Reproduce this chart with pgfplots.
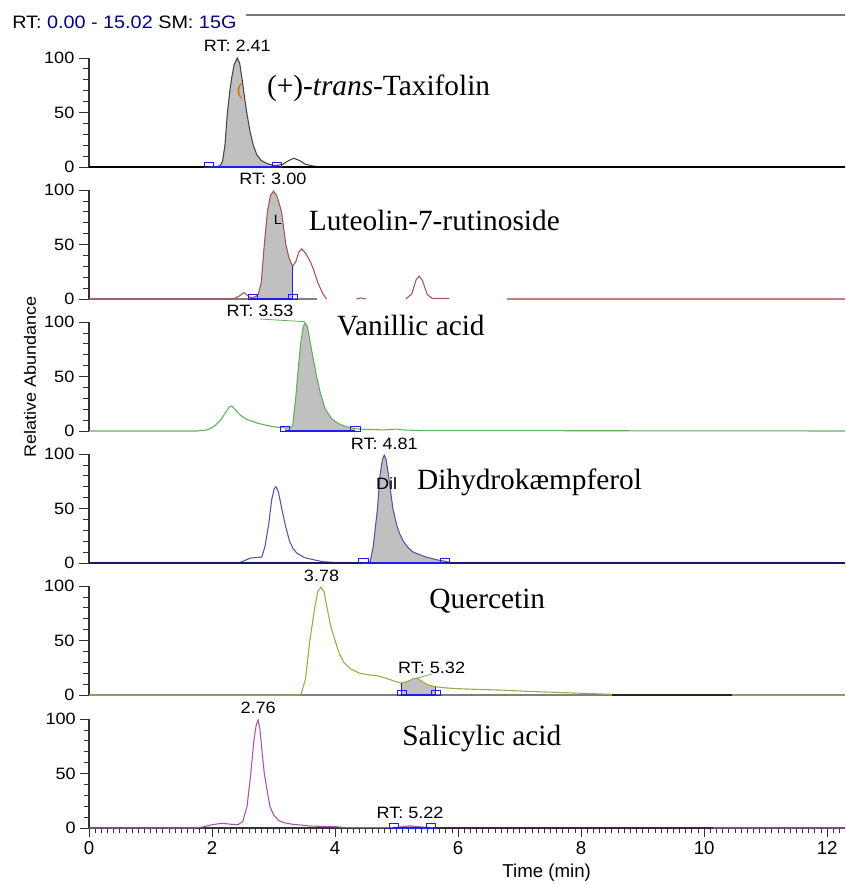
\documentclass[border=0pt]{standalone}
\usepackage{fontspec}
\setmainfont{Liberation Serif}
\newfontfamily\xc{Liberation Sans}[FakeStretch=1.1]
\newfontfamily\xb{Liberation Sans}
\usepackage{pgfplots}
\usepackage{pgfplotstable}
\pgfplotsset{compat=1.18}

\definecolor{tr1}{RGB}{70,70,70}
\definecolor{tr2}{RGB}{165,85,85}
\definecolor{bl2}{RGB}{200,125,125}
\definecolor{tr3}{RGB}{95,175,95}
\definecolor{tr4}{RGB}{85,85,165}
\definecolor{bl4}{RGB}{25,25,100}
\definecolor{tr5}{RGB}{165,165,70}
\definecolor{tr6}{RGB}{165,85,170}
\definecolor{fillg}{RGB}{192,192,192}
\definecolor{intb}{RGB}{30,30,240}
\definecolor{navy}{RGB}{0,0,128}
\definecolor{hdr}{RGB}{120,120,120}

\newcommand\tk{\xc\fontsize{12.3}{14}\selectfont}
\newcommand\cmpd{\fontsize{22}{24}\selectfont}

\pgfplotsset{
  panel/.style={
    scale only axis, width=567pt, height=81.75pt,
    xmin=0, xmax=12.29, ymin=0, ymax=100,
    axis y line*=left,
    clip=false, anchor=south west,
    ytick={0,50,100}, minor ytick={10,20,30,40,60,70,80,90},
    tick align=outside,
    major tick length=7.5pt, minor tick length=4.5pt,
    every tick/.style={black!80, line width=0.6pt},
    y axis line style={black!80, line width=0.8pt},
    yticklabel style={font=\tk},
    /pgf/number format/assume math mode=true,
  },
  upper/.style={panel, axis x line=none, xtick=\empty},
  intmark/.style={only marks, mark=square, mark size=1.9pt, intb,
    mark options={draw=intb, xscale=1.8, line width=0.6pt, solid}},
}

\begin{document}

\pgfplotstableread{
t y
0 0
1.9 0
2.05 0.3
2.13 1
2.17 5
2.21 20
2.25 50
2.29 70
2.32 82
2.36 94
2.41 100
2.45 95
2.49 80
2.53 63
2.57 48
2.62 32
2.67 20
2.73 11
2.8 6
2.9 3
3.0 1.5
3.06 1.5
3.15 2.5
3.25 6
3.33 8
3.42 6
3.52 2.5
3.65 0.8
3.8 0
12.29 0
}\pa

\pgfplotstableread{
t y
0 0
2.35 0
2.45 3
2.52 6
2.58 3
2.63 1.2
2.7 2
2.75 4
2.8 15
2.85 50
2.9 80
2.95 95
3.0 99
3.05 95
3.1 86
3.13 80
3.2 50
3.25 38
3.31 30
3.36 34
3.41 43
3.46 46
3.52 42
3.6 34
3.65 27
3.72 15
3.8 5
3.86 0
}\pb

\pgfplotstableread{
t y
4.35 0
4.42 1
4.5 0
}\pbb

\pgfplotstableread{
t y
5.15 0
5.25 5
5.32 18
5.37 21
5.42 17
5.5 4
5.58 0.5
5.85 0.5
}\pbc

\pgfplotstableread{
t y
0 0
1.75 0
1.9 0.8
1.97 2
2.05 5
2.14 10
2.22 17
2.28 22
2.32 23
2.37 20
2.45 15
2.55 11
2.62 9.5
2.75 7
2.9 5
3.05 3.5
3.19 2.8
3.27 3
3.31 5
3.36 30
3.39 50
3.44 80
3.48 95
3.51 99
3.55 96
3.6 80
3.65 65
3.7 50
3.76 35
3.84 20
3.95 11
4.05 7
4.13 5
4.25 3
4.33 2
4.5 1.5
4.8 1
5.0 1.8
5.1 1
5.38 0.4
12.29 0
}\pc

\pgfplotstableread{
t y
0 0
2.43 0
2.5 1.5
2.62 4.5
2.72 5
2.81 5.5
2.86 15
2.92 35
2.97 58
3.01 68
3.04 70
3.08 65
3.14 48
3.19 35
3.26 20
3.32 13
3.38 9
3.5 5
3.65 3
3.8 1.2
4.0 0.5
4.2 0
4.46 0
4.57 1
4.62 15
4.66 35
4.69 50
4.73 80
4.77 95
4.8 99
4.83 95
4.87 80
4.94 50
5.0 35
5.05 27
5.11 20
5.19 14
5.27 10
5.45 6
5.65 3
5.79 1.5
5.92 0
12.29 0
}\pd

\pgfplotstableread{
t y
0 0
3.4 0
3.45 1
3.52 15
3.59 50
3.67 80
3.72 95
3.77 99
3.82 95
3.87 80
3.93 63
4.0 50
4.07 38
4.14 30
4.25 24
4.4 20
4.55 18.5
4.7 17.5
4.85 15
5.0 12
5.08 11
5.18 12.5
5.27 15
5.33 15.5
5.4 13
5.5 9.5
5.64 7.5
5.8 6.5
6.0 5.8
6.4 5
6.7 4.5
7.2 3.2
7.8 2
8.3 1
8.6 0.4
10.4 0.2
10.5 0
12.29 0
}\pe

\pgfplotstableread{
t y
0 0
1.72 0
1.85 1
2.0 3
2.16 4.3
2.3 3.5
2.42 3
2.5 6
2.57 20
2.63 50
2.68 80
2.72 95
2.75 99
2.78 90
2.81 72
2.85 50
2.9 33
2.94 20
3.0 12
3.08 7
3.16 5
3.3 3.5
3.43 2.8
3.6 1.8
4.0 1.2
4.2 0.3
4.95 0.3
5.1 1.2
5.22 2
5.35 1.2
5.56 0.3
5.7 0
12.29 0
}\pf

\begin{tikzpicture}
\useasboundingbox (0,0) rectangle (633.75pt,-663pt);

% header
\node[anchor=base west, font=\xc\fontsize{13.5}{15}\selectfont, inner sep=0pt]
  at (9pt,-21.25pt) {RT: \textcolor{navy}{0.00 - 15.02} SM: \textcolor{navy}{15G}};
\draw[hdr, line width=1.4pt] (184.5pt,-11.25pt) -- (633.75pt,-11.25pt);

% panel 1
\begin{axis}[upper, at={(66.75pt,-125.25pt)}]
\addplot[fill=fillg, draw=none, restrict x to domain=1.95:3.06] table {\pa} \closedcycle;
\addplot[tr1, line width=0.8pt] table {\pa};
\addplot[black, line width=1.2pt] coordinates {(0,0) (12.29,0)};
\addplot[intb, line width=0.8pt] coordinates {(1.95,0) (3.06,0)};
\addplot[intmark] coordinates {(1.95,2.3) (3.06,2.3)};
\node[font=\tk, anchor=base] at (axis cs:2.41,106) {RT: 2.41};
\node[font=\tk, anchor=base, text=orange!85!black] at (axis cs:2.45,66) {(};
\node[anchor=base west, inner sep=0pt, font=\cmpd] at (axis cs:2.89,66) {(+)-\textit{trans}-Taxifolin};
\end{axis}

% panel 2
\begin{axis}[upper, at={(66.75pt,-224.25pt)}]
\addplot[fill=fillg, draw=none, restrict x to domain=2.62:3.31] table {\pb} \closedcycle;
\addplot[gray, line width=1pt] coordinates {(0,0) (3.7,0)};
\addplot[bl2, line width=1.3pt] coordinates {(6.8,0) (12.29,0)};
\addplot[tr2, line width=0.8pt] table {\pb};
\addplot[tr2, line width=0.8pt] table {\pbb};
\addplot[tr2, line width=0.8pt] table {\pbc};
\addplot[intb, line width=0.8pt] coordinates {(2.62,0) (3.31,0)};
\addplot[intb, line width=0.8pt] coordinates {(3.31,0) (3.31,30)};
\addplot[intmark] coordinates {(2.66,2.3) (3.31,2.3)};
\node[font=\tk, anchor=base] at (axis cs:2.99,104.6) {RT: 3.00};
\node[font=\xc\fontsize{10}{12}\selectfont, anchor=base] at (axis cs:3.07,68) {L};
\node[anchor=base west, inner sep=0pt, font=\cmpd] at (axis cs:3.57,63.3) {Luteolin-7-rutinoside};
\end{axis}

% panel 3
\begin{axis}[upper, at={(66.75pt,-323.25pt)}]
\addplot[fill=fillg, draw=none, restrict x to domain=3.19:4.33] table {\pc} \closedcycle;
\addplot[tr3, line width=0.8pt] table {\pc};
\addplot[intb, line width=0.8pt] coordinates {(3.19,0) (4.33,0)};
\addplot[intmark] coordinates {(3.19,2.3) (4.33,2.3)};
\draw[tr3, line width=0.6pt] (axis cs:2.78,102.7) -- (axis cs:3.51,100.3);
\node[font=\tk, anchor=base] at (axis cs:2.78,104.9) {RT: 3.53};
\node[anchor=base west, inner sep=0pt, font=\cmpd] at (axis cs:4.03,88) {Vanillic acid};
\end{axis}

% panel 4
\begin{axis}[upper, at={(66.75pt,-422.25pt)}]
\addplot[fill=fillg, draw=none, restrict x to domain=4.46:5.79] table {\pd} \closedcycle;
\addplot[tr4, line width=0.8pt] table {\pd};
\addplot[bl4, line width=1.1pt] coordinates {(0,0) (12.29,0)};
\addplot[intb, line width=0.8pt] coordinates {(4.46,0) (5.79,0)};
\addplot[intmark] coordinates {(4.46,2.3) (5.79,2.3)};
\node[font=\tk, anchor=base] at (axis cs:4.8,103.7) {RT: 4.81};
\node[font=\tk, anchor=base] at (axis cs:4.84,67) {Dil};
\node[anchor=base west, inner sep=0pt, font=\cmpd] at (axis cs:5.33,67) {Dihydrokæmpferol};
\end{axis}

% panel 5
\begin{axis}[upper, at={(66.75pt,-521.25pt)}]
\addplot[fill=fillg, draw=none, restrict x to domain=5.08:5.64] table {\pe} \closedcycle;
\addplot[gray, line width=1pt] coordinates {(0,0) (12.29,0)};
\addplot[tr5, line width=0.8pt] table {\pe};
\addplot[black!75!tr5, line width=1pt] coordinates {(8.5,0) (10.45,0)};
\addplot[intb, line width=0.8pt] coordinates {(5.08,0) (5.64,0)};
\addplot[intb, line width=0.8pt] coordinates {(5.08,0) (5.08,11)};
\addplot[intb, line width=0.8pt] coordinates {(5.64,0) (5.64,7.5)};
\addplot[intmark] coordinates {(5.08,2.3) (5.64,2.3)};
\draw[tr3, line width=0.6pt] (axis cs:5.33,15.3) -- (axis cs:5.57,19.3);
\node[font=\tk, anchor=base] at (axis cs:3.78,104) {3.78};
\node[font=\tk, anchor=base] at (axis cs:5.57,19.9) {RT: 5.32};
\node[anchor=base west, inner sep=0pt, font=\cmpd] at (axis cs:5.53,79) {Quercetin};
\end{axis}

% panel 6
\begin{axis}[panel, at={(66.75pt,-621pt)},
  axis x line*=bottom,
  xtick={0,2,4,6,8,10,12},
  minor xtick={0,0.1,...,12.3},
  x axis line style={black!80, line width=0.8pt},
  xticklabel style={font=\xb\fontsize{14}{16}\selectfont},
  major tick length=6.5pt, minor tick length=3.8pt]
\addplot[fill=fillg, draw=none, restrict x to domain=4.95:5.56] table {\pf} \closedcycle;
\addplot[tr6, line width=0.8pt] table {\pf};
\addplot[tr6!40!black, line width=0.9pt] coordinates {(5.6,0) (10.15,0)};
\addplot[intb, line width=0.8pt] coordinates {(4.95,0) (5.56,0)};
\addplot[intmark] coordinates {(4.95,2.3) (5.56,2.3)};
\node[font=\tk, anchor=base] at (axis cs:2.75,104.6) {2.76};
\node[font=\tk, anchor=base] at (axis cs:5.22,8.3) {RT: 5.22};
\node[anchor=base west, inner sep=0pt, font=\cmpd] at (axis cs:5.09,76) {Salicylic acid};
\end{axis}

\node[rotate=90, font=\tk] at (22.5pt,-282.75pt) {Relative Abundance};
\node[font=\xb\fontsize{14}{16}\selectfont] at (410pt,-654.75pt) {Time (min)};
\end{tikzpicture}
\end{document}
